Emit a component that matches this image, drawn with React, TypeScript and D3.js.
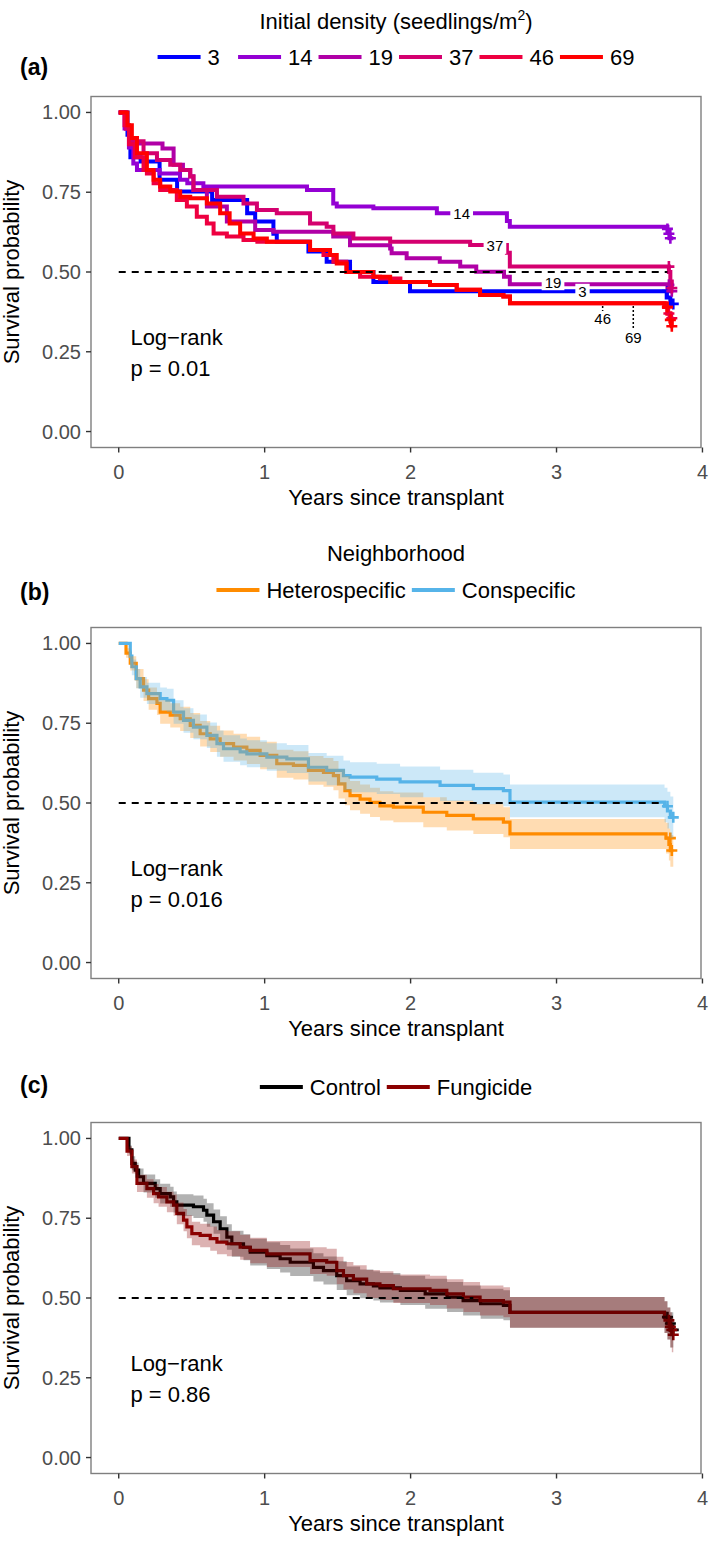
import React from "react";
import * as d3 from "d3";

type Step = [number, number];
type BandStep = [number, number, number, number];

// ---------- Panel (a): initial density ----------
const DENSITY_LEVELS = ["3", "14", "19", "37", "46", "69"];
const DENSITY_COLORS = ["#0000FF", "#9400D3", "#B000A6", "#D4006F", "#EE0040", "#FF0000"];

const SURV_D3: Step[] = [[0,1],[0.06,0.93],[0.08,0.86],[0.15,0.846],[0.28,0.789],[0.40,0.752],[0.64,0.726],[0.88,0.684],[0.935,0.658],[1.06,0.62],[1.083,0.595],[1.30,0.564],[1.425,0.532],[1.585,0.50],[1.745,0.469],[1.996,0.44],[3.755,0.42],[3.78,0.40]];
const SURV_D14: Step[] = [[0,1],[0.04,0.95],[0.07,0.89],[0.10,0.84],[0.125,0.82],[0.28,0.809],[0.42,0.789],[0.47,0.778],[0.58,0.768],[1.29,0.757],[1.47,0.715],[1.494,0.705],[1.745,0.70],[2.18,0.684],[2.66,0.66],[2.68,0.642],[3.76,0.626],[3.775,0.606]];
const SURV_D19: Step[] = [[0,1],[0.05,0.95],[0.08,0.92],[0.125,0.903],[0.30,0.887],[0.376,0.836],[0.44,0.82],[0.49,0.80],[0.512,0.757],[0.604,0.705],[0.741,0.658],[0.935,0.632],[1.06,0.626],[1.47,0.611],[1.585,0.584],[1.86,0.574],[1.87,0.559],[1.973,0.543],[2.2,0.532],[2.34,0.517],[2.45,0.501],[2.64,0.485],[2.68,0.462],[3.76,0.45],[3.78,0.44]];
const SURV_D37: Step[] = [[0,1],[0.05,0.95],[0.08,0.91],[0.17,0.872],[0.262,0.851],[0.353,0.836],[0.421,0.82],[0.49,0.799],[0.512,0.757],[0.673,0.736],[0.855,0.715],[0.947,0.694],[1.083,0.684],[1.311,0.652],[1.425,0.642],[1.471,0.621],[1.608,0.605],[1.86,0.595],[2.408,0.585],[2.66,0.56],[2.68,0.517],[3.77,0.50],[3.78,0.47],[3.79,0.45]];
const SURV_D46: Step[] = [[0,1],[0.04,0.96],[0.07,0.90],[0.11,0.86],[0.17,0.82],[0.193,0.809],[0.239,0.778],[0.284,0.757],[0.398,0.726],[0.467,0.705],[0.535,0.673],[0.604,0.652],[0.65,0.621],[0.741,0.611],[0.855,0.60],[0.95,0.595],[1.311,0.569],[1.403,0.553],[1.471,0.532],[1.56,0.50],[1.654,0.485],[1.79,0.48],[1.93,0.469],[2.133,0.459],[2.316,0.444],[2.476,0.428],[2.636,0.423],[2.681,0.402],[3.74,0.39],[3.76,0.37],[3.78,0.355]];
const SURV_D69: Step[] = [[0,1],[0.06,0.96],[0.09,0.92],[0.125,0.872],[0.193,0.82],[0.239,0.789],[0.284,0.768],[0.353,0.752],[0.421,0.736],[0.49,0.731],[0.604,0.715],[0.695,0.684],[0.76,0.652],[0.832,0.621],[0.924,0.605],[1.015,0.595],[1.311,0.569],[1.448,0.553],[1.494,0.527],[1.562,0.50],[1.745,0.485],[1.86,0.469],[2.133,0.459],[2.316,0.444],[2.476,0.428],[2.636,0.423],[2.681,0.402],[3.74,0.39],[3.76,0.37],[3.78,0.345],[3.79,0.33]];

const CENSOR_D3: Step[] = [[3.76,0.44],[3.80,0.40]];
const CENSOR_D14: Step[] = [[3.76,0.635],[3.77,0.62],[3.78,0.606]];
const CENSOR_D19: Step[] = [[3.77,0.46],[3.79,0.44]];
const CENSOR_D37: Step[] = [[3.77,0.517],[3.79,0.45]];
const CENSOR_D46: Step[] = [[3.76,0.39],[3.77,0.37],[3.79,0.355]];
const CENSOR_D69: Step[] = [[3.76,0.39],[3.78,0.35],[3.79,0.33]];

// direct labels on curves: [label, time, survival, boxed, leaderTop]
const DIRECT_LABELS: [string, number, number, boolean, number | null][] = [
  ["14", 2.35, 0.684, true, null],
  ["37", 2.578, 0.582, true, null],
  ["19", 2.976, 0.468, true, null],
  ["3", 3.178, 0.438, true, null],
  ["46", 3.316, 0.353, false, 0.40],
  ["69", 3.526, 0.295, false, 0.40],
];

// ---------- Panel (b): neighborhood ----------
const NEIGH_LEVELS = ["Heterospecific", "Conspecific"];
const NEIGH_COLORS = ["#FF8C00", "#56B4E9"];
// [time, surv, lower, upper]
const SURV_HET: BandStep[] = [[0,1,1,1],[0.05,0.97,0.955,0.985],[0.079,0.938,0.915,0.96],[0.12,0.89,0.86,0.92],[0.17,0.854,0.82,0.888],[0.205,0.827,0.792,0.862],[0.262,0.812,0.776,0.848],[0.284,0.785,0.748,0.822],[0.353,0.775,0.737,0.813],[0.421,0.764,0.726,0.802],[0.49,0.743,0.704,0.782],[0.558,0.717,0.677,0.757],[0.627,0.701,0.66,0.742],[0.695,0.686,0.645,0.727],[0.787,0.675,0.633,0.717],[0.878,0.665,0.622,0.708],[0.969,0.649,0.606,0.692],[1.083,0.623,0.579,0.667],[1.197,0.618,0.574,0.662],[1.30,0.602,0.557,0.647],[1.403,0.596,0.551,0.641],[1.471,0.586,0.54,0.632],[1.506,0.56,0.514,0.606],[1.55,0.539,0.493,0.585],[1.585,0.523,0.477,0.569],[1.654,0.512,0.466,0.558],[1.722,0.502,0.456,0.548],[1.79,0.491,0.445,0.537],[1.882,0.487,0.44,0.533],[2.087,0.471,0.424,0.518],[2.248,0.461,0.414,0.508],[2.43,0.45,0.403,0.497],[2.636,0.44,0.393,0.487],[2.681,0.403,0.356,0.45],[3.75,0.39,0.342,0.438],[3.77,0.37,0.32,0.42],[3.78,0.351,0.30,0.40]];
const SURV_CON: BandStep[] = [[0,1,1,1],[0.079,0.96,0.94,0.98],[0.09,0.927,0.90,0.95],[0.12,0.89,0.86,0.92],[0.147,0.864,0.83,0.895],[0.193,0.843,0.81,0.877],[0.284,0.827,0.79,0.862],[0.33,0.822,0.785,0.858],[0.376,0.785,0.748,0.822],[0.444,0.759,0.72,0.797],[0.512,0.738,0.70,0.777],[0.604,0.712,0.672,0.752],[0.673,0.686,0.645,0.727],[0.718,0.67,0.629,0.712],[0.832,0.66,0.618,0.702],[0.878,0.654,0.612,0.697],[1.015,0.644,0.601,0.687],[1.152,0.638,0.594,0.682],[1.30,0.612,0.567,0.657],[1.425,0.602,0.556,0.648],[1.54,0.586,0.54,0.633],[1.585,0.581,0.534,0.628],[1.768,0.575,0.528,0.623],[1.928,0.566,0.518,0.614],[2.202,0.555,0.506,0.604],[2.43,0.545,0.496,0.595],[2.636,0.539,0.49,0.589],[2.681,0.503,0.455,0.558],[3.74,0.49,0.44,0.548],[3.76,0.475,0.42,0.535],[3.78,0.455,0.39,0.52]];
const CENSOR_HET: Step[] = [[3.78,0.39],[3.79,0.351]];
const CENSOR_CON: Step[] = [[3.76,0.49],[3.80,0.455]];

// ---------- Panel (c): fungicide ----------
const TREAT_LEVELS = ["Control", "Fungicide"];
const TREAT_COLORS = ["#000000", "#8B0000"];
const SURV_CTRL: BandStep[] = [[0,1,1,1],[0.07,0.964,0.95,0.978],[0.09,0.922,0.90,0.944],[0.113,0.901,0.877,0.925],[0.136,0.88,0.854,0.906],[0.17,0.859,0.831,0.887],[0.25,0.843,0.814,0.872],[0.284,0.827,0.796,0.858],[0.353,0.817,0.785,0.849],[0.376,0.801,0.768,0.834],[0.398,0.791,0.757,0.825],[0.512,0.786,0.751,0.821],[0.581,0.775,0.739,0.811],[0.604,0.76,0.723,0.797],[0.65,0.739,0.701,0.777],[0.695,0.717,0.678,0.756],[0.741,0.691,0.651,0.731],[0.775,0.67,0.629,0.711],[0.855,0.659,0.618,0.70],[0.901,0.644,0.602,0.686],[1.015,0.633,0.591,0.675],[1.106,0.623,0.58,0.666],[1.175,0.612,0.569,0.655],[1.334,0.596,0.552,0.64],[1.403,0.586,0.542,0.63],[1.494,0.57,0.525,0.615],[1.562,0.554,0.509,0.599],[1.654,0.544,0.499,0.589],[1.745,0.538,0.492,0.584],[1.79,0.532,0.486,0.578],[1.93,0.524,0.478,0.57],[2.1,0.513,0.466,0.56],[2.25,0.503,0.456,0.55],[2.36,0.492,0.445,0.539],[2.48,0.482,0.435,0.529],[2.636,0.477,0.43,0.524],[2.681,0.455,0.407,0.503],[3.74,0.44,0.39,0.49],[3.76,0.42,0.37,0.47],[3.78,0.40,0.345,0.455]];
const SURV_FUNG: BandStep[] = [[0,1,1,1],[0.057,0.96,0.945,0.975],[0.09,0.912,0.89,0.934],[0.125,0.859,0.832,0.886],[0.193,0.843,0.814,0.872],[0.239,0.827,0.797,0.857],[0.273,0.817,0.786,0.848],[0.33,0.801,0.769,0.833],[0.376,0.791,0.758,0.824],[0.398,0.765,0.731,0.799],[0.444,0.744,0.709,0.779],[0.467,0.723,0.687,0.759],[0.501,0.702,0.665,0.739],[0.558,0.696,0.659,0.733],[0.627,0.686,0.648,0.724],[0.673,0.675,0.637,0.713],[0.741,0.67,0.631,0.709],[0.832,0.659,0.62,0.698],[0.901,0.649,0.609,0.689],[1.015,0.638,0.597,0.679],[1.311,0.617,0.575,0.659],[1.425,0.612,0.57,0.654],[1.494,0.586,0.543,0.629],[1.54,0.57,0.527,0.613],[1.608,0.559,0.515,0.603],[1.699,0.544,0.5,0.588],[1.79,0.539,0.494,0.584],[1.882,0.529,0.484,0.574],[2.133,0.524,0.478,0.57],[2.248,0.513,0.467,0.559],[2.362,0.503,0.456,0.55],[2.476,0.492,0.445,0.539],[2.636,0.487,0.44,0.534],[2.681,0.455,0.407,0.503],[3.74,0.44,0.39,0.49],[3.76,0.42,0.37,0.47],[3.78,0.40,0.345,0.455],[3.79,0.385,0.33,0.44]];
const CENSOR_CTRL: Step[] = [[3.76,0.44],[3.78,0.42],[3.80,0.40]];
const CENSOR_FUNG: Step[] = [[3.77,0.43],[3.78,0.41],[3.79,0.40],[3.80,0.385]];

// ---------- shared ----------
const END_TIME = 3.8;
const X_TICKS = [0, 1, 2, 3, 4];
const Y_TICKS = [0, 0.25, 0.5, 0.75, 1];
const MEDIAN_END = [3.76, 3.74, 2.43];
const P_VALUES = ["p = 0.01", "p = 0.016", "p = 0.86"];
const TAGS = ["(a)", "(b)", "(c)"];
const LEGEND_TITLES = ["Initial density (seedlings/m", "Neighborhood", ""];

// ---------- layout ----------
const W = 709, H = 1542;
const FONT = "'Liberation Sans', Arial, Helvetica, sans-serif";
const PLOT_LEFT = 91, PLOT_RIGHT = 701, PLOT_H = 351;
const PANEL_TOPS = [96.5, 627.5, 1122.5];
const X_DOMAIN: [number, number] = [-0.19, 3.99];
const Y_DOMAIN: [number, number] = [-0.05, 1.05];
const LEG_FS = 22;

let _ctx: CanvasRenderingContext2D | null = null;
function measure(text: string, font: string): number {
  if (!_ctx) {
    const c = document.createElement("canvas");
    _ctx = c.getContext("2d");
  }
  if (!_ctx) return text.length * 11;
  _ctx.font = font;
  return _ctx.measureText(text).width;
}

interface Series {
  color: string;
  steps: number[][];
  censor: Step[];
  band?: boolean;
}

function Legend({ labels, colors, cy, equal }: { labels: string[]; colors: string[]; cy: number; equal: boolean }) {
  const font = `${LEG_FS}px ${FONT}`;
  const ws = labels.map((l) => measure(l, font));
  const mw = Math.max(...ws);
  const widths = equal ? ws.map(() => mw) : ws;
  const KEY = 43, G1 = 7, G2 = 6;
  const total = widths.reduce((a, w) => a + KEY + G1 + w, 0) + G2 * (labels.length - 1);
  const cx = (PLOT_LEFT + PLOT_RIGHT) / 2;
  let xPos = cx - total / 2;
  const items = labels.map((l, i) => {
    const x0 = xPos;
    xPos += KEY + G1 + widths[i] + G2;
    return (
      <g key={l}>
        <line x1={x0} x2={x0 + KEY} y1={cy} y2={cy} stroke={colors[i]} strokeWidth={4} />
        <text x={x0 + KEY + G1} y={cy + 8} fontSize={LEG_FS} fontFamily={FONT} fill="#000">{l}</text>
      </g>
    );
  });
  return <g>{items}</g>;
}

function Panel({ idx, series, lineWidth }: { idx: number; series: Series[]; lineWidth: number }) {
  const top = PANEL_TOPS[idx];
  const bottom = top + PLOT_H;
  const x = d3.scaleLinear().domain(X_DOMAIN).range([PLOT_LEFT, PLOT_RIGHT]);
  const y = d3.scaleLinear().domain(Y_DOMAIN).range([bottom, top]);
  const line = d3.line<number[]>().x((d) => x(d[0])).y((d) => y(d[1])).curve(d3.curveStepAfter);
  const area = d3.area<number[]>().x((d) => x(d[0])).y0((d) => y(d[2])).y1((d) => y(d[3])).curve(d3.curveStepAfter);
  const withEnd = (s: number[][]) => [...s, [END_TIME, ...s[s.length - 1].slice(1)]];
  const fmt = d3.format(".2f");
  const cy = (top + bottom) / 2;

  return (
    <g>
      {series.map((s, i) => (
        <path key={"l" + i} d={line(withEnd(s.steps)) || ""} fill="none" stroke={s.color} strokeWidth={lineWidth} strokeLinejoin="miter" />
      ))}
      {series.map((s, i) => (
        <g key={"c" + i}>
          {s.censor.map((c, j) => {
            const cx = x(c[0]), cyy = y(c[1]);
            return <path key={j} d={`M${cx - 5.5},${cyy}H${cx + 5.5}M${cx},${cyy - 5.5}V${cyy + 5.5}`} stroke={s.color} strokeWidth={2.6} fill="none" />;
          })}
        </g>
      ))}
      {series.filter((s) => s.band).map((s, i) => (
        <path key={"b" + i} d={area(withEnd(s.steps)) || ""} fill={s.color} fillOpacity={0.3} stroke="none" />
      ))}
      <line x1={x(0)} x2={x(MEDIAN_END[idx])} y1={y(0.5)} y2={y(0.5)} stroke="#000" strokeWidth={2} strokeDasharray="7,6" />
      {idx === 0 && DIRECT_LABELS.map(([lab, t, s, boxed, leaderTop]) => {
        const tx = x(t), ty = y(s);
        const w = measure(lab, `15px ${FONT}`);
        return (
          <g key={lab}>
            {leaderTop !== null && (
              <line x1={tx} x2={tx} y1={y(leaderTop) + 2} y2={ty - 8} stroke="#000" strokeWidth={1.5} strokeDasharray="2,2" />
            )}
            {boxed && <rect x={tx - w / 2 - 3} y={ty - 8} width={w + 6} height={16} fill="#fff" />}
            <text x={tx} y={ty + 5.5} textAnchor="middle" fontSize={15} fontFamily={FONT} fill="#000">{lab}</text>
          </g>
        );
      })}
      <rect x={PLOT_LEFT} y={top} width={PLOT_RIGHT - PLOT_LEFT} height={PLOT_H} fill="none" stroke="#7f7f7f" strokeWidth={1.4} />
      {Y_TICKS.map((t) => (
        <g key={"y" + t}>
          <line x1={PLOT_LEFT - 5} x2={PLOT_LEFT} y1={y(t)} y2={y(t)} stroke="#333" strokeWidth={1.4} />
          <text x={PLOT_LEFT - 10} y={y(t) + 7} textAnchor="end" fontSize={20} fontFamily={FONT} fill="#4d4d4d">{fmt(t)}</text>
        </g>
      ))}
      {X_TICKS.map((t) => (
        <g key={"x" + t}>
          <line x1={x(t)} x2={x(t)} y1={bottom} y2={bottom + 5} stroke="#333" strokeWidth={1.4} />
          <text x={x(t)} y={bottom + 31} textAnchor="middle" fontSize={20} fontFamily={FONT} fill="#4d4d4d">{t}</text>
        </g>
      ))}
      <text x={(PLOT_LEFT + PLOT_RIGHT) / 2} y={bottom + 57} textAnchor="middle" fontSize={22} fontFamily={FONT} fill="#000">Years since transplant</text>
      <text transform={`translate(18.5,${cy}) rotate(-90)`} textAnchor="middle" fontSize={22} fontFamily={FONT} fill="#000">Survival probability</text>
      <text x={x(0.08)} y={y(0.295) + 8} fontSize={22} fontFamily={FONT} fill="#000">{"Log\u2212rank"}</text>
      <text x={x(0.08)} y={y(0.295) + 39} fontSize={22} fontFamily={FONT} fill="#000">{P_VALUES[idx]}</text>
    </g>
  );
}

export default function App() {
  const censorA = [CENSOR_D3, CENSOR_D14, CENSOR_D19, CENSOR_D37, CENSOR_D46, CENSOR_D69];
  const seriesA: Series[] = [SURV_D3, SURV_D14, SURV_D19, SURV_D37, SURV_D46, SURV_D69].map((s, i) => ({
    color: DENSITY_COLORS[i],
    steps: s,
    censor: censorA[i],
  }));
  const seriesB: Series[] = [
    { color: NEIGH_COLORS[0], steps: SURV_HET, censor: CENSOR_HET, band: true },
    { color: NEIGH_COLORS[1], steps: SURV_CON, censor: CENSOR_CON, band: true },
  ];
  const seriesC: Series[] = [
    { color: TREAT_COLORS[0], steps: SURV_CTRL, censor: CENSOR_CTRL, band: true },
    { color: TREAT_COLORS[1], steps: SURV_FUNG, censor: CENSOR_FUNG, band: true },
  ];
  const cx = (PLOT_LEFT + PLOT_RIGHT) / 2;
  return (
    <svg width={W} height={H} viewBox={`0 0 ${W} ${H}`} style={{ position: "absolute", left: 0, top: 0, background: "#fff" }}>
      <rect x={0} y={0} width={W} height={H} fill="#fff" />
      <text x={cx} y={29} textAnchor="middle" fontSize={LEG_FS} fontFamily={FONT} fill="#000">
        {LEGEND_TITLES[0]}
        <tspan fontSize={14} dy={-9}>2</tspan>
        <tspan dy={9}>)</tspan>
      </text>
      <Legend labels={DENSITY_LEVELS} colors={DENSITY_COLORS} cy={57} equal={true} />
      <text x={20} y={75} fontSize={23} fontWeight="bold" fontFamily={FONT} fill="#000">{TAGS[0]}</text>
      <Panel idx={0} series={seriesA} lineWidth={4} />

      <text x={cx} y={561} textAnchor="middle" fontSize={LEG_FS} fontFamily={FONT} fill="#000">{LEGEND_TITLES[1]}</text>
      <Legend labels={NEIGH_LEVELS} colors={NEIGH_COLORS} cy={590} equal={false} />
      <text x={20} y={600} fontSize={23} fontWeight="bold" fontFamily={FONT} fill="#000">{TAGS[1]}</text>
      <Panel idx={1} series={seriesB} lineWidth={3.2} />

      <Legend labels={TREAT_LEVELS} colors={TREAT_COLORS} cy={1087} equal={false} />
      <text x={20} y={1093} fontSize={23} fontWeight="bold" fontFamily={FONT} fill="#000">{TAGS[2]}</text>
      <Panel idx={2} series={seriesC} lineWidth={3.2} />
    </svg>
  );
}
